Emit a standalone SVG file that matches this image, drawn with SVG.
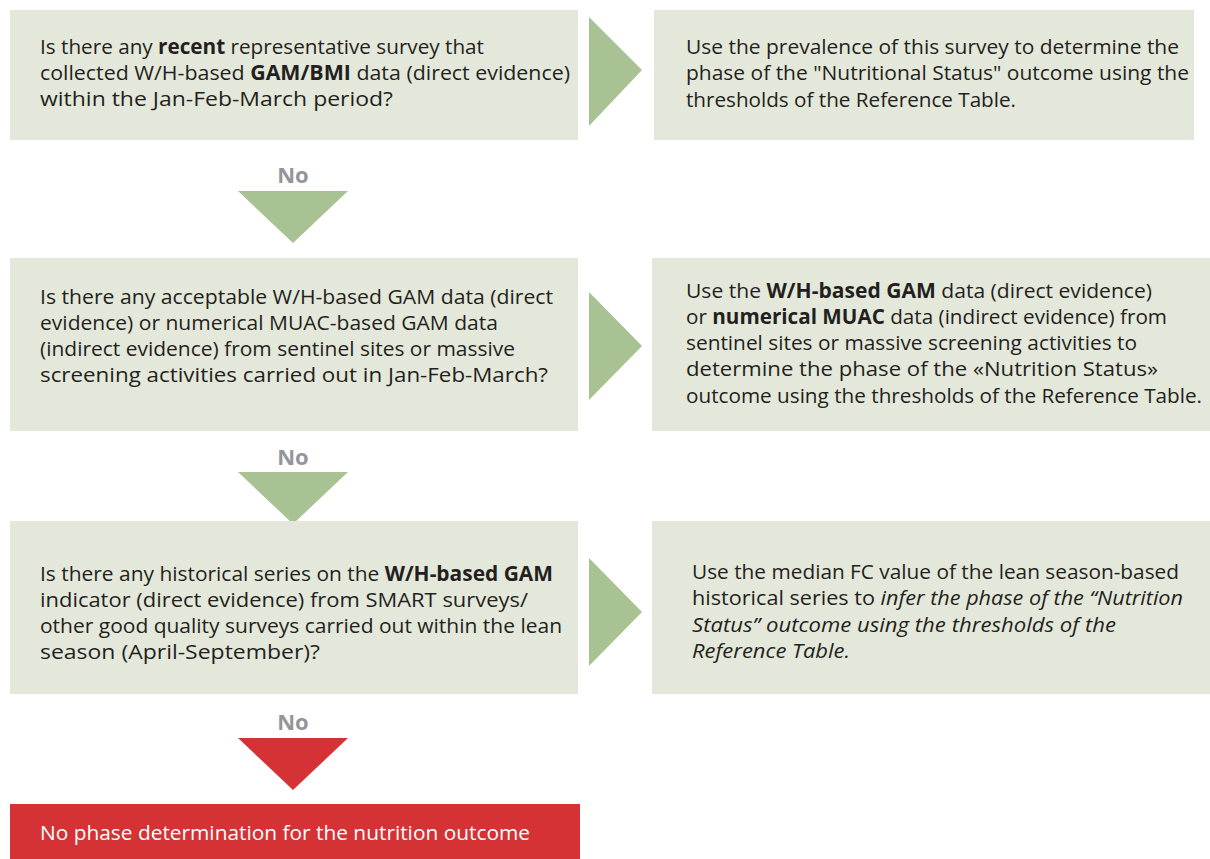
<svg xmlns="http://www.w3.org/2000/svg" width="1210" height="859" viewBox="0 0 1210 859">
<style>
.box{fill:#e3e8da}
.red{fill:#d43235}
.arr{fill:#a9c294}
.t{font-family:"Open Sans","Liberation Sans",sans-serif;font-size:20.5px;fill:#231f20}
.w{fill:#ffffff}
.b{font-weight:bold}
.i{font-style:italic}
.no{font-family:"Open Sans","Liberation Sans",sans-serif;font-size:22px;font-weight:bold;fill:#939598;text-anchor:middle}
</style>
<rect width="1210" height="859" fill="#ffffff"/>
<g id="connectors">
<polygon class="arr" points="589,17 642,70 589,126"/>
<polygon class="arr" points="589,292 642,346 589,400"/>
<polygon class="arr" points="589,558 642,612 589,666"/>
<polygon class="arr" points="238,191 348,191 293,243"/>
<polygon class="arr" points="238,472 348,472 293,524"/>
<polygon class="red" points="238,738 348,738 293,790"/>
<text class="no" x="293" y="183">No</text>
<text class="no" x="293" y="465">No</text>
<text class="no" x="293" y="730">No</text>
</g>
<g id="q1">
<rect class="box" x="10" y="10" width="568" height="130"/>
<text class="t" x="40" y="54" textLength="444" lengthAdjust="spacingAndGlyphs">Is there any <tspan class="b">recent</tspan> representative survey that</text>
<text class="t" x="40" y="80" textLength="530" lengthAdjust="spacingAndGlyphs">collected W/H-based <tspan class="b">GAM/BMI</tspan> data (direct evidence)</text>
<text class="t" x="40" y="106" textLength="353" lengthAdjust="spacingAndGlyphs">within the Jan-Feb-March period?</text>
</g>
<g id="a1">
<rect class="box" x="654" y="10" width="540" height="130"/>
<text class="t" x="686" y="54" textLength="493" lengthAdjust="spacingAndGlyphs">Use the prevalence of this survey to determine the</text>
<text class="t" x="686" y="80" textLength="503" lengthAdjust="spacingAndGlyphs">phase of the "Nutritional Status" outcome using the</text>
<text class="t" x="686" y="107" textLength="330" lengthAdjust="spacingAndGlyphs">thresholds of the Reference Table.</text>
</g>
<g id="q2">
<rect class="box" x="10" y="258" width="568" height="173"/>
<text class="t" x="40" y="304" textLength="513" lengthAdjust="spacingAndGlyphs">Is there any acceptable W/H-based GAM data (direct</text>
<text class="t" x="40" y="330" textLength="458" lengthAdjust="spacingAndGlyphs">evidence) or numerical MUAC-based GAM data</text>
<text class="t" x="40" y="356" textLength="475" lengthAdjust="spacingAndGlyphs">(indirect evidence) from sentinel sites or massive</text>
<text class="t" x="40" y="382" textLength="508" lengthAdjust="spacingAndGlyphs">screening activities carried out in Jan-Feb-March?</text>
</g>
<g id="a2">
<rect class="box" x="652" y="258" width="558" height="173"/>
<text class="t" x="686" y="298" textLength="466" lengthAdjust="spacingAndGlyphs">Use the <tspan class="b">W/H-based GAM</tspan> data (direct evidence)</text>
<text class="t" x="686" y="324" textLength="481" lengthAdjust="spacingAndGlyphs">or <tspan class="b">numerical MUAC</tspan> data (indirect evidence) from</text>
<text class="t" x="686" y="350" textLength="451" lengthAdjust="spacingAndGlyphs">sentinel sites or massive screening activities to</text>
<text class="t" x="686" y="376" textLength="472" lengthAdjust="spacingAndGlyphs">determine the phase of the «Nutrition Status»</text>
<text class="t" x="686" y="403" textLength="516" lengthAdjust="spacingAndGlyphs">outcome using the thresholds of the Reference Table.</text>
</g>
<g id="q3">
<rect class="box" x="10" y="521" width="568" height="173"/>
<text class="t" x="40" y="581" textLength="513" lengthAdjust="spacingAndGlyphs">Is there any historical series on the <tspan class="b">W/H-based GAM</tspan></text>
<text class="t" x="40" y="607" textLength="488" lengthAdjust="spacingAndGlyphs">indicator (direct evidence) from SMART surveys/</text>
<text class="t" x="40" y="633" textLength="522" lengthAdjust="spacingAndGlyphs">other good quality surveys carried out within the lean</text>
<text class="t" x="40" y="659" textLength="280" lengthAdjust="spacingAndGlyphs">season (April-September)?</text>
</g>
<g id="a3">
<rect class="box" x="652" y="521" width="558" height="173"/>
<text class="t" x="692" y="579" textLength="487" lengthAdjust="spacingAndGlyphs">Use the median FC value of the lean season-based</text>
<text class="t" x="692" y="605" textLength="491" lengthAdjust="spacingAndGlyphs">historical series to <tspan class="i">infer the phase of the “Nutrition</tspan></text>
<text class="t i" x="692" y="632" textLength="424" lengthAdjust="spacingAndGlyphs">Status” outcome using the thresholds of the</text>
<text class="t i" x="692" y="658" textLength="158" lengthAdjust="spacingAndGlyphs">Reference Table.</text>
</g>
<g id="end">
<rect class="red" x="10" y="804" width="570" height="55"/>
<text class="t w" x="40" y="840" textLength="490" lengthAdjust="spacingAndGlyphs">No phase determination for the nutrition outcome</text>
</g>
</svg>
